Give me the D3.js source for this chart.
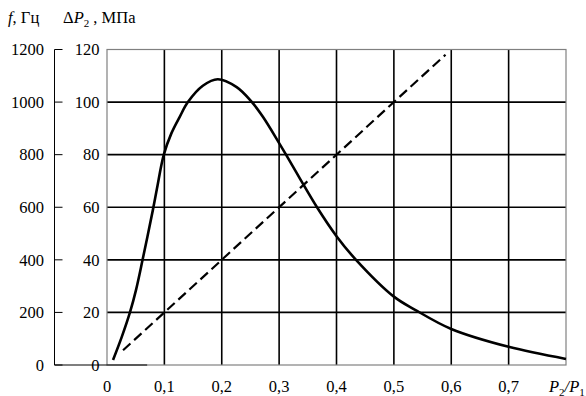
<!DOCTYPE html>
<html><head><meta charset="utf-8">
<script src="https://cdn.jsdelivr.net/npm/d3@7"></script>
<style>
html,body{margin:0;padding:0;background:#fff;}
svg text{font-family:"Liberation Serif", "Times New Roman", serif;fill:#000;}
</style></head>
<body>
<svg id="c" width="586" height="396"></svg>
<script>
// Data
const ratioTicks = [0, 0.1, 0.2, 0.3, 0.4, 0.5, 0.6, 0.7];
const ratioTickLabels = ["0", "0,1", "0,2", "0,3", "0,4", "0,5", "0,6", "0,7"];
const freqTicks = [0, 200, 400, 600, 800, 1000, 1200];
const pressTicks = [0, 20, 40, 60, 80, 100, 120];
// solid curve: frequency f, Hz
const freqX = [0.0105, 0.0256, 0.040, 0.0505, 0.062, 0.080, 0.087, 0.099, 0.112, 0.127, 0.141, 0.167, 0.193, 0.226, 0.2526, 0.272, 0.300, 0.312, 0.336, 0.366, 0.400, 0.434, 0.500, 0.537, 0.600, 0.700, 0.800];
const freqY = [19, 106, 200, 285, 400, 590, 670, 800, 880, 945, 1000, 1062, 1087, 1057, 1000, 943, 844, 800, 710, 600, 490, 400, 260, 210, 137, 69, 23];
// dashed line: pressure drop ΔP2, MPa
const pressX = [0.028, 0.59];
const pressY = [5.6, 118];

const svg = d3.select("#c");
const L = 107, R = 566, T = 49.5, B = 365;
const x = d3.scaleLinear().domain([0, 0.8]).range([L, R]);
const yF = d3.scaleLinear().domain([0, 1200]).range([B, T]);
const yP = d3.scaleLinear().domain([0, 120]).range([B, T]);
const fs = 16.5;

svg.append("g").selectAll("line").data(ratioTicks.filter(d => d > 0)).join("line")
  .attr("x1", d => x(d)).attr("x2", d => x(d)).attr("y1", T).attr("y2", B)
  .attr("stroke", "#000").attr("stroke-width", 1.6);
svg.append("g").selectAll("line").data(pressTicks.filter(d => d > 0 && d < 120)).join("line")
  .attr("x1", L).attr("x2", R).attr("y1", d => yP(d)).attr("y2", d => yP(d))
  .attr("stroke", "#000").attr("stroke-width", 1.6);
svg.append("rect").attr("x", L).attr("y", T).attr("width", R - L).attr("height", B - T)
  .attr("fill", "none").attr("stroke", "#808080").attr("stroke-width", 1.2);

const AX = 54.5;
svg.append("line").attr("x1", AX).attr("x2", AX).attr("y1", yF(1200)).attr("y2", yF(0))
  .attr("stroke", "#000").attr("stroke-width", 1);
svg.append("g").selectAll("line").data(freqTicks).join("line")
  .attr("x1", AX).attr("x2", AX + 8).attr("y1", d => yF(d)).attr("y2", d => yF(d))
  .attr("stroke", "#000").attr("stroke-width", 1);
svg.append("line").attr("x1", AX).attr("x2", x(0.07)).attr("y1", yF(0)).attr("y2", yF(0))
  .attr("stroke", "#000").attr("stroke-width", 1.2);

svg.append("g").selectAll("text").data(freqTicks).join("text")
  .attr("x", 44).attr("y", d => yF(d)).attr("dy", "0.35em").attr("text-anchor", "end")
  .attr("font-size", fs).text(d => d);
svg.append("g").selectAll("text").data(pressTicks).join("text")
  .attr("x", 99.5).attr("y", d => yP(d)).attr("dy", "0.35em").attr("text-anchor", "end")
  .attr("font-size", fs).text(d => d);
svg.append("g").selectAll("text").data(ratioTicks).join("text")
  .attr("x", d => x(d)).attr("y", 391.5).attr("text-anchor", "middle")
  .attr("font-size", fs).text((d, i) => ratioTickLabels[i]);

const t1 = svg.append("text").attr("x", 8).attr("y", 23).attr("font-size", fs);
t1.append("tspan").attr("font-style", "italic").text("f");
t1.append("tspan").text(", Гц");
const t2 = svg.append("text").attr("x", 63).attr("y", 23).attr("font-size", fs);
t2.append("tspan").text("Δ");
t2.append("tspan").attr("font-style", "italic").text("P");
t2.append("tspan").attr("font-size", 11).attr("dy", 4).text("2");
t2.append("tspan").attr("dy", -4).text(" , МПа");
const t3 = svg.append("text").attr("x", 549).attr("y", 391.5).attr("font-size", fs);
t3.append("tspan").attr("font-style", "italic").text("P");
t3.append("tspan").attr("font-size", 11).attr("dy", 4).text("2");
t3.append("tspan").attr("dy", -4).attr("font-style", "italic").text("/P");
t3.append("tspan").attr("font-size", 11).attr("dy", 4).text("1");

const fData = freqX.map((v, i) => [v, freqY[i]]);
svg.append("path").datum(fData)
  .attr("d", d3.line().x(d => x(d[0])).y(d => yF(d[1])).curve(d3.curveCatmullRom.alpha(0.5)))
  .attr("fill", "none").attr("stroke", "#000").attr("stroke-width", 2.6);
const pData = pressX.map((v, i) => [v, pressY[i]]);
svg.append("path").datum(pData)
  .attr("d", d3.line().x(d => x(d[0])).y(d => yP(d[1])))
  .attr("fill", "none").attr("stroke", "#000").attr("stroke-width", 2.2)
  .attr("stroke-dasharray", "10,5");
</script>
</body></html>
